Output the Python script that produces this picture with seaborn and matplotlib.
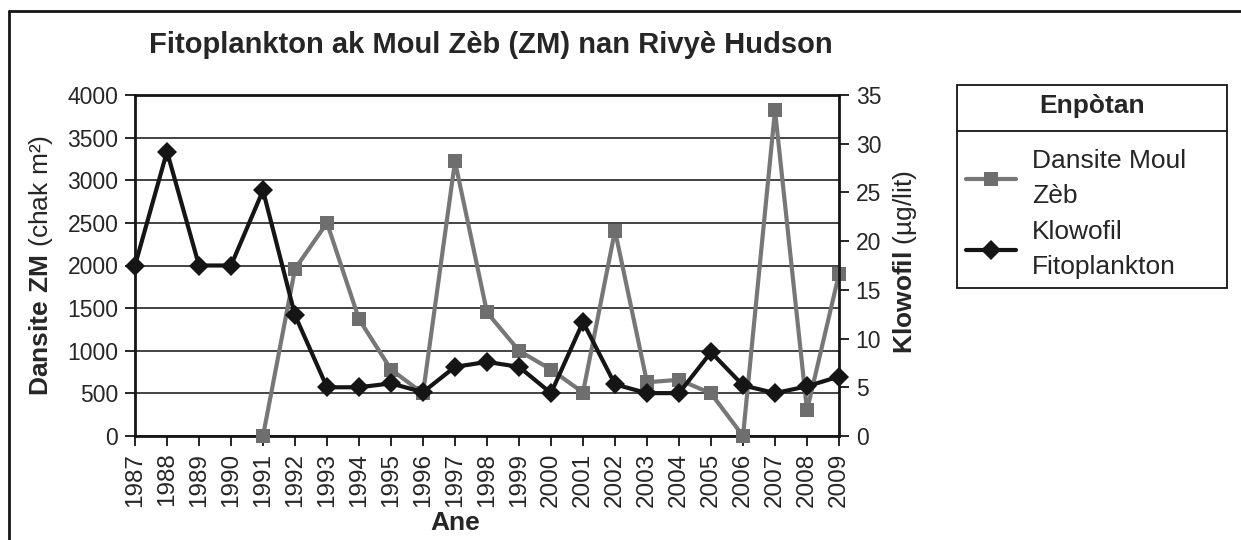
import matplotlib
matplotlib.use("Agg")
import matplotlib.pyplot as plt
import seaborn as sns
import pandas as pd
from matplotlib.lines import Line2D

# data
years = list(range(1987, 2010))
zm_years = list(range(1991, 2010))
zm_density = [0, 1960, 2500, 1370, 780, 500, 3220, 1450, 1000, 780,
              510, 2410, 630, 660, 500, 0, 3820, 300, 1900]
chlorophyll = [17.5, 29.2, 17.5, 17.5, 25.2, 12.4, 5.0, 5.0, 5.4, 4.5,
               7.1, 7.6, 7.1, 4.4, 11.7, 5.3, 4.4, 4.4, 8.6, 5.2,
               4.4, 5.1, 6.1]
left_ticks = list(range(0, 4001, 500))
right_ticks = list(range(0, 36, 5))

zm_df = pd.DataFrame({"Ane": zm_years, "ZM": zm_density})
chl_df = pd.DataFrame({"Ane": years, "Klowofil": chlorophyll})

sns.set_style("white")
plt.rcParams["font.family"] = ["Liberation Sans", "DejaVu Sans"]
plt.rcParams["mathtext.fontset"] = "custom"
plt.rcParams["mathtext.rm"] = "Liberation Sans"
plt.rcParams["mathtext.bf"] = "Liberation Sans:bold"

gray = "#777777"
black = "#151515"
W, H = 1241, 540

fig = plt.figure(figsize=(W / 100, H / 100), dpi=100)
ax = fig.add_axes([135 / W, 1 - 436 / H, (839 - 135) / W, (436 - 95) / H])
ax2 = ax.twinx()

sns.lineplot(data=zm_df, x="Ane", y="ZM", ax=ax, color=gray, linewidth=3,
             marker="s", markersize=10, markeredgewidth=0,
             markerfacecolor="#6e6e6e", clip_on=False, legend=False, zorder=3)
sns.lineplot(data=chl_df, x="Ane", y="Klowofil", ax=ax2, color=black,
             linewidth=3, marker="D", markersize=10.5, markeredgewidth=0,
             clip_on=False, legend=False, zorder=4)

ax.set_xlim(1987, 2009)
ax.set_ylim(0, 4000)
ax2.set_ylim(0, 35)
ax.set_xticks(years)
ax.set_xticklabels([str(y) for y in years], rotation=90)
ax.set_yticks(left_ticks)
ax2.set_yticks(right_ticks)

ax.yaxis.grid(True, color="#222222", linewidth=1.2)
ax.set_axisbelow(True)

for a in (ax, ax2):
    a.tick_params(axis="both", labelsize=16.5, direction="out", length=7,
                  width=1.3, color=black, pad=5)
ax.tick_params(axis="x", labelsize=17.5)
ax.tick_params(left=True, bottom=True)
ax2.tick_params(right=True)

for s in ("left", "bottom", "top"):
    ax.spines[s].set_color(black)
    ax.spines[s].set_linewidth(2)
ax.spines["right"].set_visible(False)
for s in ("left", "bottom", "top"):
    ax2.spines[s].set_visible(False)
ax2.spines["right"].set_color(black)
ax2.spines["right"].set_linewidth(2)

ax.set_xlabel("")
ax.set_ylabel("")
ax2.set_ylabel("")
fig.text(41 / W, 1 - 265 / H, r"$\mathbf{Dansite\ ZM}$ (chak m²)",
         rotation=90, ha="center", va="center", fontsize=19)
fig.text(905 / W, 1 - 262 / H, r"$\mathbf{Klowofil}$ (µg/lit)",
         rotation=90, ha="center", va="center", fontsize=19)
fig.text(455 / W, 1 - 523 / H, "Ane", ha="center", va="center",
         fontsize=19, fontweight="bold")
fig.text(491 / W, 1 - 45 / H, "Fitoplankton ak Moul Zèb (ZM) nan Rivyè Hudson",
         ha="center", va="center", fontsize=21, fontweight="bold")

handles = [
    Line2D([], [], color=gray, linewidth=3, marker="s", markersize=10,
           markeredgewidth=0, markerfacecolor="#6e6e6e"),
    Line2D([], [], color=black, linewidth=3, marker="D", markersize=10.5,
           markeredgewidth=0),
]
leg = fig.legend(handles, ["Dansite Moul\nZèb", "Klowofil\nFitoplankton"],
                 title="Enpòtan", loc="upper left",
                 bbox_to_anchor=(957 / W, 1 - 85 / H, (1227 - 957) / W, 0.0),
                 mode="expand", borderaxespad=0, fontsize=19,
                 title_fontproperties={"weight": "bold", "size": 19},
                 handlelength=1.9, handletextpad=0.6, borderpad=0.35,
                 labelspacing=0.48, fancybox=False, framealpha=1,
                 edgecolor=black)
leg.get_frame().set_linewidth(1.3)
for t in leg.get_texts():
    t.set_linespacing(1.55)
# extra room between the title and the entries
leg._legend_box.sep = 22.4

# separator under the legend title
fig.add_artist(Line2D([957 / W, 1227 / W], [1 - 131 / H, 1 - 131 / H],
                      color=black, linewidth=1.3, zorder=6))

# outer frame: left and top edges
fig.add_artist(Line2D([8.5 / W, 8.5 / W], [0, 1 - 10.5 / H],
                      color=black, linewidth=2))
fig.add_artist(Line2D([8.5 / W, 1], [1 - 10.5 / H, 1 - 10.5 / H],
                      color=black, linewidth=2))

fig.savefig("out.png", dpi=100)
